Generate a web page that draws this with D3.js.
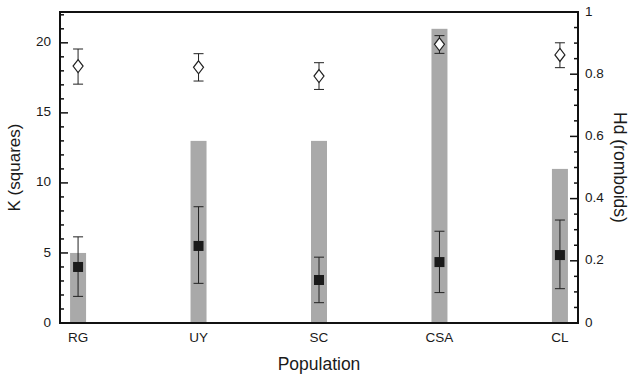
<!DOCTYPE html>
<html>
<head>
<meta charset="utf-8">
<script src="https://cdn.jsdelivr.net/npm/d3@7"></script>
<style>
  body { margin: 0; background: #fff; }
  text { font-family: "Liberation Sans", Arial, sans-serif; fill: #1a1a1a; }
</style>
</head>
<body>
<div id="canvas"></div>
<script>
"use strict";

// Data
let populations = ["RG", "UY", "SC", "CSA", "CL"];
// grey bars (left axis, K units)
let barValues = [5, 13, 13, 21, 11];
// squares: K mean with error range
let kMean = [4.0, 5.5, 3.07, 4.35, 4.85];
let kLow = [1.9, 2.83, 1.45, 2.17, 2.45];
let kHigh = [6.15, 8.3, 4.7, 6.55, 7.35];
// romboids: Hd mean with error range
let hdMean = [0.826, 0.822, 0.794, 0.896, 0.862];
let hdLow = [0.768, 0.778, 0.751, 0.867, 0.821];
let hdHigh = [0.881, 0.866, 0.837, 0.924, 0.901];
let leftTicks = [0, 5, 10, 15, 20];
let rightTicks = [0, 0.2, 0.4, 0.6, 0.8, 1];

let svgWidth = 629;
let svgHeight = 377;
let margin = { left: 60, right: 51, top: 12, bottom: 54 };

let svg = d3.select("#canvas")
    .append("svg")
    .attr("width", svgWidth)
    .attr("height", svgHeight);

let x = d3.scalePoint()
    .domain(populations)
    .range([margin.left, svgWidth - margin.right])
    .padding(0.15);

let yK = d3.scaleLinear()
    .domain([0, 22.2])
    .range([svgHeight - margin.bottom, margin.top]);

let yHd = d3.scaleLinear()
    .domain([0, 1])
    .range([svgHeight - margin.bottom, margin.top]);

let rows = populations.map((p, i) => ({
    pop: p, bar: barValues[i],
    k: kMean[i], kLo: kLow[i], kHi: kHigh[i],
    hd: hdMean[i], hdLo: hdLow[i], hdHi: hdHigh[i]
}));

// Grey bars
let barW = 16;
svg.selectAll("rect.bar")
    .data(rows)
    .join("rect")
    .attr("class", "bar")
    .attr("x", d => x(d.pop) - barW / 2)
    .attr("y", d => yK(d.bar))
    .attr("width", barW)
    .attr("height", d => yK(0) - yK(d.bar))
    .attr("fill", "#a9a9a9");

// Error bars helper
function errorBars(cls, lo, hi, scale) {
    let g = svg.append("g").attr("class", cls)
        .attr("stroke", "#222").attr("stroke-width", 1);
    let capW = 5;
    rows.forEach(d => {
        let cx = x(d.pop);
        g.append("line").attr("x1", cx).attr("x2", cx)
            .attr("y1", scale(d[lo])).attr("y2", scale(d[hi]));
        g.append("line").attr("x1", cx - capW).attr("x2", cx + capW)
            .attr("y1", scale(d[lo])).attr("y2", scale(d[lo]));
        g.append("line").attr("x1", cx - capW).attr("x2", cx + capW)
            .attr("y1", scale(d[hi])).attr("y2", scale(d[hi]));
    });
}

errorBars("kerr", "kLo", "kHi", yK);
errorBars("hderr", "hdLo", "hdHi", yHd);

// Squares
let sq = 10;
svg.selectAll("rect.square")
    .data(rows)
    .join("rect")
    .attr("class", "square")
    .attr("x", d => x(d.pop) - sq / 2)
    .attr("y", d => yK(d.k) - sq / 2)
    .attr("width", sq)
    .attr("height", sq)
    .attr("fill", "#1a1a1a");

// Romboids
svg.selectAll("path.romboid")
    .data(rows)
    .join("path")
    .attr("class", "romboid")
    .attr("transform", d => `translate(${x(d.pop)},${yHd(d.hd)})`)
    .attr("d", "M0,-6.5L5,0L0,6.5L-5,0Z")
    .attr("fill", "white")
    .attr("stroke", "#222")
    .attr("stroke-width", 1.2);

// Frame
let x0 = margin.left, x1 = svgWidth - margin.right;
let yTop = margin.top, yBot = svgHeight - margin.bottom;
svg.append("path")
    .attr("d", `M${x0},${yTop}L${x1},${yTop}L${x1},${yBot}L${x0},${yBot}Z`)
    .attr("fill", "none")
    .attr("stroke", "#111")
    .attr("stroke-width", 2);

// Left axis ticks (inward), minor every 1
let leftAxis = svg.append("g").attr("stroke", "#111").attr("stroke-width", 1.5);
d3.range(0, 23).forEach(v => {
    let major = v % 5 === 0;
    leftAxis.append("line")
        .attr("x1", x0).attr("x2", x0 + (major ? 8 : 4))
        .attr("y1", yK(v)).attr("y2", yK(v));
});
svg.selectAll("text.lt")
    .data(leftTicks)
    .join("text")
    .attr("class", "lt")
    .attr("x", x0 - 9)
    .attr("y", d => yK(d))
    .attr("text-anchor", "end")
    .attr("dominant-baseline", "middle")
    .style("font-size", "13.5px")
    .text(d => d);

// Right axis ticks (inward), minor every 0.05
let rightAxis = svg.append("g").attr("stroke", "#111").attr("stroke-width", 1.5);
d3.range(0, 21).forEach(i => {
    let major = i % 4 === 0;
    let v = i * 0.05;
    rightAxis.append("line")
        .attr("x1", x1).attr("x2", x1 - (major ? 8 : 4))
        .attr("y1", yHd(v)).attr("y2", yHd(v));
});
svg.selectAll("text.rt")
    .data(rightTicks)
    .join("text")
    .attr("class", "rt")
    .attr("x", x1 + 7)
    .attr("y", d => yHd(d))
    .attr("dominant-baseline", "middle")
    .style("font-size", "13.5px")
    .text(d => d);

// Category labels
svg.selectAll("text.cat")
    .data(populations)
    .join("text")
    .attr("class", "cat")
    .attr("x", d => x(d))
    .attr("y", yBot + 15)
    .attr("text-anchor", "middle")
    .attr("dominant-baseline", "middle")
    .style("font-size", "13.5px")
    .text(d => d);

// Axis titles
svg.append("text")
    .attr("x", (x0 + x1) / 2)
    .attr("y", yBot + 42)
    .attr("text-anchor", "middle")
    .attr("dominant-baseline", "middle")
    .style("font-size", "17.5px")
    .text("Population");

svg.append("text")
    .attr("transform", `translate(16,${(yTop + yBot) / 2}) rotate(-90)`)
    .attr("text-anchor", "middle")
    .attr("dominant-baseline", "middle")
    .style("font-size", "17px")
    .text("K (squares)");

svg.append("text")
    .attr("transform", `translate(619,${(yTop + yBot) / 2}) rotate(90)`)
    .attr("text-anchor", "middle")
    .attr("dominant-baseline", "middle")
    .style("font-size", "17.5px")
    .text("Hd (romboids)");
</script>
</body>
</html>
